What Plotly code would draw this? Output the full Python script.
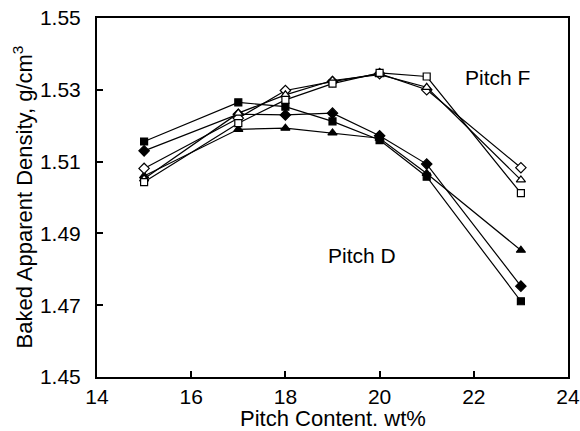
import plotly.graph_objects as go

# Pitch content (wt%)
pitch_content = [15, 17, 18, 19, 20, 21, 23]

# Baked apparent density (g/cm3) for pitch D blends (filled symbols)
d_square = [1.5156, 1.5265, 1.5253, 1.5212, 1.5160, 1.5058, 1.4711]
d_diamond = [1.5130, 1.5232, 1.5230, 1.5235, 1.5172, 1.5093, 1.4753]
d_triangle = [1.5060, 1.5190, 1.5193, 1.5180, 1.5165, 1.5067, 1.4853]

# Baked apparent density (g/cm3) for pitch F blends (open symbols)
f_diamond = [1.5081, 1.5221, 1.5298, 1.5323, 1.5345, 1.5300, 1.5083]
f_triangle = [1.5052, 1.5235, 1.5286, 1.5326, 1.5342, 1.5307, 1.5049]
f_square = [1.5043, 1.5207, 1.5272, 1.5317, 1.5347, 1.5337, 1.5012]

x_ticks = [14, 16, 18, 20, 22, 24]
y_ticks = [1.45, 1.47, 1.49, 1.51, 1.53, 1.55]

FONT = "Liberation Sans, Arial, Helvetica, sans-serif"

series = [
    (d_square, "square", "black", 7),
    (d_diamond, "diamond", "black", 8),
    (d_triangle, "triangle-up", "black", 8),
    (f_diamond, "diamond", "white", 8),
    (f_triangle, "triangle-up", "white", 8),
    (f_square, "square", "white", 7),
]

fig = go.Figure()
for ys, sym, fill, size in series:
    fig.add_trace(go.Scatter(
        x=pitch_content, y=ys, mode="lines+markers",
        line=dict(color="black", width=1.2),
        marker=dict(symbol=sym, size=size, color=fill,
                    line=dict(color="black", width=1.2)),
        showlegend=False,
    ))

# Series group labels
fig.add_annotation(x=22.5, y=1.5335, text="Pitch F", showarrow=False,
                   font=dict(family=FONT, size=21, color="black"))
fig.add_annotation(x=19.63, y=1.4838, text="Pitch D", showarrow=False,
                   font=dict(family=FONT, size=21, color="black"))

# Axis titles placed in the margins
fig.add_annotation(x=0.5, y=0, xref="paper", yref="paper", yshift=-41,
                   yanchor="middle", text="Pitch Content. wt%",
                   showarrow=False,
                   font=dict(family=FONT, size=22, color="black"))
fig.add_annotation(x=0, y=0.5, xref="paper", yref="paper", xshift=-75,
                   xanchor="center", yanchor="middle", textangle=-90,
                   text="Baked Apparent Density, g/cm<sup>3</sup>",
                   showarrow=False,
                   font=dict(family=FONT, size=22, color="black"))

axis_common = dict(
    showgrid=False, zeroline=False, showline=True, linecolor="black",
    linewidth=2, mirror=True, ticks="inside", ticklen=6, tickwidth=1.5,
    tickcolor="black", tickfont=dict(family=FONT, size=21, color="black"),
    automargin=False,
)

fig.update_xaxes(range=[14, 24], tickvals=x_ticks,
                 ticktext=[str(v) for v in x_ticks], **axis_common)
fig.update_yaxes(range=[1.45, 1.55], tickvals=y_ticks,
                 ticktext=[f"{v:.2f}" for v in y_ticks],
                 ticklabelstandoff=10, **axis_common)

fig.update_layout(
    width=580, height=431,
    margin=dict(l=97, r=12, t=18, b=54),
    paper_bgcolor="white", plot_bgcolor="white",
    font=dict(family=FONT, color="black"),
)

fig.write_html("out.html")
